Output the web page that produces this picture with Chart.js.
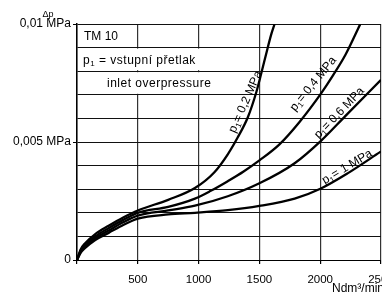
<!DOCTYPE html>
<html>
<head>
<meta charset="utf-8">
<script src="https://cdn.jsdelivr.net/npm/chart.js@4.4.1/dist/chart.umd.min.js"></script>
<style>
  html, body { margin: 0; padding: 0; background: #fff; }
  canvas { display: block; }
</style>
</head>
<body>
<canvas id="graphCanvas" width="382" height="295"></canvas>
<script>
// flow (Ndm3/min) and pressure drop (MPa)
var flow02 = [0, 30, 65, 150, 260, 380, 500, 750, 970, 1130, 1240, 1320, 1405, 1475, 1515, 1555, 1595, 1625];
var dp02   = [0, 0.00045, 0.0007, 0.0011, 0.00145, 0.0018, 0.0021, 0.00255, 0.00305, 0.00372, 0.00448, 0.00518, 0.00605, 0.00712, 0.0079, 0.00872, 0.00952, 0.0100];

var flow04 = [0, 30, 65, 150, 260, 380, 500, 750, 970, 1100, 1240, 1370, 1500, 1665, 1830, 2006, 2100, 2210, 2330];
var dp04   = [0, 0.0004, 0.00063, 0.001, 0.00135, 0.0017, 0.0020, 0.00225, 0.0026, 0.00293, 0.00334, 0.00375, 0.00422, 0.0049, 0.00585, 0.00705, 0.00778, 0.00872, 0.0100];

var flow06 = [0, 30, 65, 150, 260, 380, 500, 750, 970, 1240, 1500, 1790, 2006, 2210, 2500];
var dp06   = [0, 0.00035, 0.00056, 0.00092, 0.00125, 0.0016, 0.00188, 0.0021, 0.0023, 0.0027, 0.00325, 0.0041, 0.00505, 0.00612, 0.00763];

var flow10 = [0, 30, 65, 150, 260, 380, 500, 750, 970, 1240, 1500, 1790, 2006, 2225, 2500];
var dp10   = [0, 0.0003, 0.0005, 0.00085, 0.00115, 0.00148, 0.00175, 0.00193, 0.0020, 0.00211, 0.00229, 0.0026, 0.00303, 0.00367, 0.0046];

var seriesNames = ['0,2 MPa', '0,4 MPa', '0,6 MPa', '1 MPa'];
var xTicks = [500, 1000, 1500, 2000, 2500];
var yTicks = [0, 0.005, 0.01];
var yTickLabels = ['0', '0,005 MPa', '0,01 MPa'];

var FONT = '"Liberation Sans", Arial, Helvetica, sans-serif';

// where the curve names sit (data coords) and their angle
var curveLabels = [
    { x: 1386, y: 0.0067, angle: -66 },
    { x: 1943, y: 0.00746, angle: -51 },
    { x: 2157, y: 0.00623, angle: -46 },
    { x: 2222, y: 0.00394, angle: -31 }
];

function toPoints(xs, ys) {
    var pts = [];
    for (var i = 0; i < xs.length; i++) {
        pts.push({ x: xs[i], y: ys[i] });
    }
    return pts;
}

function yLabelFor(v) {
    for (var i = 0; i < yTicks.length; i++) {
        if (Math.abs(yTicks[i] - v) < 1e-9) return yTickLabels[i];
    }
    return null;
}

function drawP1(ctx, x, y, rest, size) {
    // "p" + subscript 1 + rest, left aligned, middle baseline
    ctx.textAlign = 'left';
    ctx.textBaseline = 'middle';
    ctx.font = size + 'px ' + FONT;
    ctx.fillText('p', x, y);
    var w = ctx.measureText('p').width;
    ctx.font = Math.round(size * 0.7) + 'px ' + FONT;
    ctx.fillText('1', x + w, y + size * 0.3);
    var w2 = ctx.measureText('1').width;
    ctx.font = size + 'px ' + FONT;
    ctx.fillText(rest, x + w + w2, y);
    return w + w2 + ctx.measureText(rest).width;
}

function measureP1(ctx, rest, size) {
    ctx.font = size + 'px ' + FONT;
    var w = ctx.measureText('p').width + ctx.measureText(rest).width;
    ctx.font = Math.round(size * 0.7) + 'px ' + FONT;
    return w + ctx.measureText('1').width;
}

var overlay = {
    id: 'overlay',
    beforeDatasetsDraw: function (chart) {
        var ctx = chart.ctx, xs = chart.scales.x, ys = chart.scales.y;
        var left = chart.chartArea.left;
        ctx.save();
        ctx.fillStyle = '#fff';
        var xr = xs.getPixelForValue(1500) - 1;
        ctx.fillRect(left + 1, ys.getPixelForValue(0.009) + 1, xr - left - 1, ys.getPixelForValue(0.008) - ys.getPixelForValue(0.009) - 2);
        ctx.fillRect(left + 1, ys.getPixelForValue(0.008) + 1, xr - left - 1, ys.getPixelForValue(0.007) - ys.getPixelForValue(0.008) - 2);

        ctx.fillStyle = '#000';
        ctx.font = '12px ' + FONT;
        ctx.textAlign = 'left';
        ctx.textBaseline = 'middle';
        var r1 = (ys.getPixelForValue(0.01) + ys.getPixelForValue(0.009)) / 2;
        var r2 = (ys.getPixelForValue(0.009) + ys.getPixelForValue(0.008)) / 2;
        var r3 = (ys.getPixelForValue(0.008) + ys.getPixelForValue(0.007)) / 2;
        ctx.fillText('TM 10', left + 7, r1 + 1);
        ctx.letterSpacing = '0.5px';
        drawP1(ctx, left + 6, r2 + 1, ' = vstupní přetlak', 12);
        ctx.font = '12px ' + FONT;
        ctx.fillText('inlet overpressure', left + 30, r3 + 1);
        ctx.letterSpacing = '0px';
        ctx.restore();
    },
    afterDatasetsDraw: function (chart) {
        var ctx = chart.ctx, xs = chart.scales.x, ys = chart.scales.y;
        ctx.save();
        ctx.fillStyle = '#000';
        for (var i = 0; i < curveLabels.length; i++) {
            var c = curveLabels[i];
            var rest = '= ' + seriesNames[i];
            ctx.save();
            ctx.translate(xs.getPixelForValue(c.x), ys.getPixelForValue(c.y));
            ctx.rotate(c.angle * Math.PI / 180);
            var w = measureP1(ctx, rest, 12);
            drawP1(ctx, -w / 2, 0, rest, 12);
            ctx.restore();
        }
        // axis captions
        ctx.textAlign = 'center';
        ctx.textBaseline = 'middle';
        ctx.font = '9px ' + FONT;
        ctx.fillText('\u0394p', 48, 15);
        ctx.textAlign = 'left';
        ctx.font = '12px ' + FONT;
        ctx.fillText('Ndm\u00b3/min', 332, 289);
        ctx.restore();
    }
};

function showGraph() {
    var sets = [toPoints(flow02, dp02), toPoints(flow04, dp04), toPoints(flow06, dp06), toPoints(flow10, dp10)];
    var datasets = [];
    for (var i = 0; i < sets.length; i++) {
        datasets.push({
            label: 'p1 = ' + seriesNames[i],
            data: sets[i],
            borderColor: '#000',
            borderWidth: 2.3,
            pointRadius: 0,
            fill: false,
            cubicInterpolationMode: 'monotone'
        });
    }

    new Chart(document.getElementById('graphCanvas'), {
        type: 'line',
        data: { datasets: datasets },
        options: {
            responsive: false,
            devicePixelRatio: 1,
            animation: false,
            layout: { padding: { top: 24, right: 1, bottom: 0, left: 0 } },
            plugins: { legend: { display: false }, tooltip: { enabled: false } },
            scales: {
                x: {
                    type: 'linear',
                    min: 0,
                    max: 2500,
                    afterBuildTicks: function (s) {
                        s.ticks = [{ value: 0 }].concat(xTicks.map(function (v) { return { value: v }; }));
                    },
                    ticks: {
                        autoSkip: false,
                        maxRotation: 0,
                        padding: 9,
                        color: '#000',
                        font: { family: FONT, size: 11.5 },
                        callback: function (v) { return v === 0 ? '' : String(v); }
                    },
                    grid: { color: '#333', lineWidth: 1.2, tickLength: 4, tickColor: '#000' },
                    border: { color: '#000', width: 1 },
                    afterFit: function (s) { s.height = 35; s.paddingLeft = 0; s.paddingRight = 0; }
                },
                y: {
                    min: 0,
                    max: 0.01,
                    ticks: {
                        stepSize: 0.001,
                        autoSkip: false,
                        padding: 2,
                        color: '#000',
                        font: { family: FONT, size: 12 },
                        callback: function (v) { var l = yLabelFor(v); return l === null ? '' : l; }
                    },
                    grid: {
                        color: '#111',
                        lineWidth: 1,
                        tickLength: 4,
                        tickColor: function (ctx) {
                            return ctx.tick && yLabelFor(ctx.tick.value) !== null ? '#000' : 'rgba(0,0,0,0)';
                        }
                    },
                    border: { color: '#000', width: 1.5 },
                    afterFit: function (s) { s.width = 77; s.paddingTop = 0; s.paddingBottom = 0; }
                }
            }
        },
        plugins: [overlay]
    });
}

showGraph();
</script>
</body>
</html>
